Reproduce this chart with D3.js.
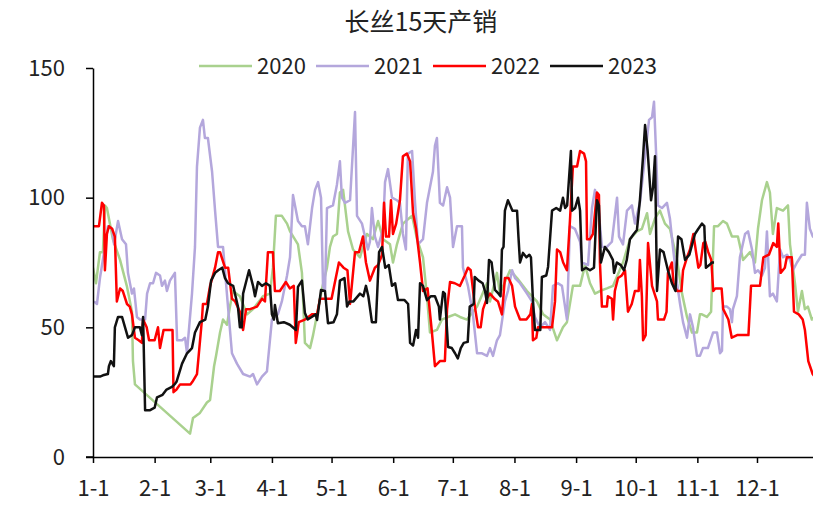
<!DOCTYPE html>
<html>
<head>
<meta charset="utf-8">
<script src="https://cdn.jsdelivr.net/npm/d3@7/dist/d3.min.js"></script>
<style>
  html, body { margin: 0; padding: 0; background: #fff; }
  svg { display: block; }
  text { font-family: "Noto Sans CJK SC", "Noto Sans", sans-serif; fill: #222; }
</style>
</head>
<body>
<svg id="chart" width="813" height="510"></svg>
<script>
// ---- data (day of year, value) ----
const title = "长丝15天产销";
const seriesNames = ["2020", "2021", "2022", "2023"];
const monthStarts = [0, 31, 59, 90, 120, 151, 181, 212, 243, 273, 304, 334];
const monthLabels = ["1-1","2-1","3-1","4-1","5-1","6-1","7-1","8-1","9-1","10-1","11-1","12-1"];
const yTicks = [0, 50, 100, 150];

const s2020 = [[0,73],[1.5,67],[3.5,79],[5,79],[6,97],[7,96],[10,84],[13.6,76],[17,66],[19.6,56],[20.1,37],[21.1,28],[48.8,9],[50.3,15],[53.8,17],[57.3,21],[58.9,22],[60.9,35],[61.9,39],[63.9,48],[65.4,53],[67.4,51],[68.9,58],[70.4,64],[73.9,62],[77.5,55],[80.5,57],[85.5,62],[89,63],[90.5,73],[92,93],[95,93],[97.6,90],[99.1,87],[103.1,82],[105.1,71],[106.6,44],[109.2,42],[110.7,47],[112.7,55],[115.2,65],[117.7,73],[119.2,81],[120.7,85],[122.7,86],[124.2,102],[125.8,103],[128.3,87],[130.8,80],[134.3,77],[137.8,86],[140.8,84],[143.4,91],[145.9,84],[149.4,82],[150.9,75],[152.9,82],[155.9,90],[160.5,93],[163,84],[166,77],[168,62],[169.5,48],[173,49],[175.5,53],[178.6,54],[182.1,55],[184.6,54],[188.1,53],[193.2,58],[198.2,67],[199.7,60],[203.2,71],[204.7,63],[209.8,72],[213.3,69],[218.3,64],[223.3,60],[226.4,55],[229.9,53],[233.4,45],[236.4,50],[238.4,52],[241.4,66],[245,66],[247.5,74],[250,67],[252.5,63],[255,64],[258.5,65],[261.6,66],[266.6,75],[270.1,84],[273.6,87],[276.1,88],[278.7,94],[280.2,86],[282.7,92],[285.2,95],[287.7,90],[290.2,88],[293.8,76],[296.3,63],[298.8,54],[301.3,48],[303.8,48],[305.3,55],[306.3,55],[308.8,54],[310.9,56],[312.4,89],[314.4,89],[316.9,91],[318.9,90],[321.4,85],[324.4,85],[327,76],[330.5,79],[333,75],[334.5,88],[336.5,99],[339,106],[340.5,102],[342,86],[344,96],[347.1,95],[349.6,97],[350.6,82],[353.1,67],[354.6,56],[356.6,64],[358.1,57],[359.6,58],[361.6,53],[363,54]];

const s2021 = [[0.5,60],[2,59],[3.5,69],[6,81],[7.5,89],[9.6,88],[10.6,82],[12.6,91],[14.6,84],[16.6,82],[17.6,71],[19.6,63],[20.6,65],[22.1,54],[23.6,53],[26.2,53],[27.2,63],[28.7,67],[30.2,67],[31.7,71],[33.7,70],[34.7,66],[36.2,68],[37.2,64],[38.7,68],[41.2,71],[42.3,45],[44.8,45],[46.3,46],[47.3,40],[47.8,45],[49.8,63],[51.3,81],[52.3,112],[53.8,127],[55.3,130],[56.3,123],[57.8,123],[59.9,110],[61.4,95],[62.9,81],[65.4,81],[67.9,58],[69.9,40],[72.4,36],[75.5,32],[79,31],[80.5,32],[82.5,28],[85,31],[87.5,33],[90,53],[93,55],[95,60],[97.6,70],[99.1,77],[100.6,101],[103.1,91],[105.1,89],[106.6,89],[108.1,82],[110.2,96],[111.7,103],[113.2,106],[114.7,100],[115.7,66],[116.7,64],[117.7,96],[120.7,97],[122.7,105],[124.2,114],[125.2,100],[126.8,98],[129.3,99],[131.8,133],[132.8,93],[135.3,90],[136.8,85],[138.3,80],[139.3,83],[140.3,96],[141.8,85],[143.4,81],[145.9,88],[146.9,106],[148.4,111],[150.4,100],[152.9,99],[154.4,98],[155.9,86],[157.4,80],[158.4,117],[160.5,118],[162,98],[163.5,82],[166,84],[168,98],[169.5,104],[171,110],[172,120],[173,123],[174.5,98],[176.1,97],[178.1,104],[179.6,100],[181.1,81],[183.1,89],[185.6,89],[186.1,73],[188.6,66],[191.1,55],[193.2,40],[195.7,40],[198.2,39],[199.7,42],[201.2,39],[203.2,45],[204.7,47],[207.2,60],[208.7,64],[210.8,72],[212.3,69],[214.8,67],[218.3,63],[220.8,60],[222.3,54],[224.8,50],[227.4,52],[229.9,49],[231.4,66],[233.9,67],[235.9,66],[238.4,53],[239.9,89],[242.4,88],[245,83],[246,75],[249,74],[251,96],[252.5,103],[254,98],[256,81],[258.5,81],[261,83],[263.6,100],[264.6,85],[266.6,82],[268.6,95],[271.1,97],[272.6,90],[275.1,98],[277.7,116],[279.7,130],[281.2,131],[282.2,137],[283.2,118],[284.2,97],[286.2,96],[288.7,98],[290.2,92],[291.7,81],[293.8,67],[295.3,59],[296.8,52],[298.8,46],[300.3,55],[301.8,50],[303.8,39],[305.3,39],[306.8,42],[309.3,42],[311.9,48],[313.9,48],[315.4,40],[316.4,41],[316.9,58],[318.9,58],[320.4,57],[321.4,52],[321.9,57],[323.9,62],[325.4,77],[328,86],[329.5,87],[331.5,80],[333,71],[334.5,72],[336.5,70],[338,73],[339,87],[340.5,62],[342,63],[344,60],[345.6,80],[347.1,77],[349.1,78],[350.6,76],[352.1,72],[354.1,75],[356.6,78],[358.1,78],[359.1,98],[360.6,88],[362.1,85],[364,84]];

const s2022 = [[0,89],[3,89],[4.5,98],[5.5,97],[6,72],[7,86],[8,89],[9.6,88],[11,85],[12,60],[13.6,65],[15,64],[17.1,59],[18.5,58],[19.6,55],[21.1,46],[23,45],[24.6,44],[25.2,53],[27,50],[28.2,45],[31,45],[32.7,50],[33.7,42],[35.5,49],[37.2,49],[40,49],[40.5,25],[42,26],[43.8,28],[46.3,28],[49,28],[50,29],[52.3,32],[53.5,42],[54.8,53],[55.3,59],[57.3,59],[58.9,66],[61.4,73],[62.9,79],[63.9,79],[66.4,73],[68,73],[69.9,61],[71.5,60],[73.9,56],[75.5,49],[77,57],[79,57],[82.5,58],[85,61],[86.5,60],[88,79],[90.5,79],[91.5,64],[94,64],[97,67.5],[99,65],[101,66],[102,44],[103.5,52],[106.6,53],[110,55],[112.7,55],[114.2,61],[117,61],[120,61],[123.7,75],[126,73],[128,72],[129.3,59],[131.8,79],[133.8,79],[135.8,85],[137.3,75],[139.3,68],[141.8,73],[143.4,74],[145.4,78],[146.4,98],[147.4,85],[148.9,85],[149.9,99],[150.9,86],[152.5,90],[154.4,99],[155.9,116],[157.9,117],[159.5,114],[161,94],[162.5,88],[164.5,75],[166,64],[168.3,65],[170.5,48],[172,35],[174.5,37],[177,37],[178.1,57],[179.6,67.5],[182,67],[184.6,66],[187,70],[188.6,73],[190,72],[192.1,58],[193.7,50],[195,50],[196.2,57],[198,61],[199.7,63],[202,61],[203.7,60],[205.7,55],[207.2,69],[209,69],[210.8,66],[212.3,58],[214.8,53],[218,53],[220,55],[220.8,59],[221.3,45],[223,46],[223.8,50],[226.4,50],[229,50],[230.9,50],[232.4,60],[233.4,80],[235,79],[236.5,75],[238.4,72],[239.9,91],[241.4,112],[243.5,112],[245,118],[247,117],[248,114],[248.5,84],[250,84],[251.5,86],[253.5,102],[254.5,101],[255,75],[256,58],[258.5,58],[259,62],[261,61],[261.6,53],[262.5,64],[264.1,69],[266,70],[267.6,72],[269.1,56],[271,59],[272.6,64],[274.5,64],[275.1,76],[276.1,62],[276.7,45],[278,47],[279.2,82.5],[281.2,66],[283.7,60],[284.2,53],[287.2,53],[288.5,56],[289.2,71],[291.2,75],[292,67],[293.8,64],[296,64],[296.8,72],[298.8,77],[300.3,80],[302,86],[304.5,73],[305.5,74],[307,82.5],[308,83],[309.5,79],[311,76],[312,64],[313,65],[316.2,65],[317,57],[319.6,53],[321.3,46],[324,47],[327,47],[329.7,47],[331,66],[335.5,66],[337.2,77],[340,78],[342.2,82.5],[344,81],[344.7,90],[345.9,71],[348,73],[349,77],[351.5,77],[352.6,56],[355,55],[357,53],[358.1,49],[359.8,37],[362,32],[364,30]];

const s2023 = [[0,31],[3.5,31],[5,31.5],[7.5,32],[8,35],[9,37],[10.5,35],[11,50],[12.6,54],[14.6,54],[17.6,46],[19.6,47],[21.1,50],[23.6,50],[24.6,47],[25.2,54],[26.2,18],[28.5,18],[31,19],[32.2,23],[35,24],[37,26],[39.7,27],[41,28],[42,29],[44.8,36],[47.3,40],[49.8,42],[51.3,48],[53.8,52],[56.5,53],[57.8,58],[59.4,68],[61.4,71],[63,72],[65,73],[66.4,69],[67.9,67],[70.5,66],[72.9,58],[73.9,50],[74.8,50],[75.5,63],[77.5,69],[78.5,72],[80.5,66],[81.5,62],[83,67.5],[85,66],[87,67],[89,66],[90,55],[91,53],[91.5,58.6],[92.5,54],[93,51.6],[96,52],[99,51],[102.1,49],[103.1,65.6],[105.1,68],[106.6,55.5],[108,53],[110,54],[112,55],[112.7,52.8],[114.7,64.4],[116.7,64],[118.2,51.6],[121,52],[122.7,55],[124.2,68],[126.5,69],[127.8,58],[129,60],[131,60],[134.3,63],[136,62],[137.3,66],[138.5,62],[140.3,52],[142.3,52],[143.9,79],[145.4,81],[147,73],[148.8,74],[150.4,66],[152,67],[153.4,60.5],[156.7,60.5],[158.5,59],[159.5,44],[161,43],[162.5,49],[163.5,46],[164.5,67],[166,66],[168,60.5],[170,62],[172,62],[174,58],[174.5,53],[176.1,63.6],[177,63],[178.6,42.4],[180.5,42],[182.1,40],[183.5,38],[185,42],[186.5,44],[188.5,44.4],[189.5,58],[191.5,59],[192,69.4],[194,68],[196,67],[197.2,64],[198.2,59.4],[199.2,76],[200.5,75],[202.2,64.4],[204,63],[205,62],[205.7,80],[206.5,81],[207.2,95],[208.7,99],[211,95],[213.3,95],[214,85],[214.8,75],[216.3,78.7],[218,77],[219.5,78],[220.3,77],[221.3,60.5],[222.3,49],[225,49],[225.8,69.4],[228,70],[228.9,73.3],[230.9,95],[233,96],[235,95],[236.4,100],[237.5,96],[238.5,97],[240.4,118],[241,95],[242.5,96],[244,100],[245,95],[246,72],[248,73],[250,72],[252,73],[253.5,99],[254.5,97],[255.5,75],[257.5,81],[259.5,79],[261.5,76],[262.1,71],[263.5,75],[265.5,74],[267.1,72],[268.5,76],[270.1,84],[272,86],[273.6,87.5],[275.1,99],[276.7,116],[277.7,128],[279,118],[280.7,99],[281.7,104],[282.7,116],[283.7,64],[285.2,80],[287,79],[289.2,72],[291.2,67],[293,64],[294.3,85],[296,84],[297.8,76],[300,78],[302.8,86],[304.5,88],[306.3,90],[307.5,89],[308.3,73],[310,74],[311.4,75],[312.4,75]];

const seriesData = [s2020, s2021, s2022, s2023];
const seriesColors = ["#a9d18e", "#b4a7dc", "#ff0000", "#111111"];

// ---- layout ----
const svg = d3.select("#chart");
const W = 813, H = 510;
const m = { left: 93, top: 68, bottom: 457 };
const pxPerDay = 1.988;
const fontStack = "'Noto Sans CJK SC', 'Noto Sans', sans-serif";

const x = d3.scaleLinear().domain([0, 365]).range([m.left, m.left + 365 * pxPerDay]);
const y = d3.scaleLinear().domain([0, 150]).range([m.bottom, m.top]);

// title
svg.append("text")
  .attr("x", 421).attr("y", 31)
  .attr("text-anchor", "middle")
  .style("font-size", "25px")
  .text(title);

// legend
const legendX = [199, 316, 433, 550];
const leg = svg.append("g");
seriesNames.forEach((n, i) => {
  const g = leg.append("g").attr("transform", `translate(${legendX[i]},66)`);
  g.append("line").attr("x1", 0).attr("x2", 53).attr("y1", 0).attr("y2", 0)
    .attr("stroke", seriesColors[i]).attr("stroke-width", 2.5);
  g.append("text").attr("x", 58).attr("y", 0).attr("dy", "0.36em")
    .style("font-size", "22px").text(n);
});

// lines
const line = d3.line().x(d => x(d[0])).y(d => y(d[1]));
svg.append("defs").append("clipPath").attr("id", "clip")
  .append("rect").attr("x", m.left).attr("y", 0).attr("width", W - m.left).attr("height", H);
const lg = svg.append("g").attr("clip-path", "url(#clip)");
seriesData.forEach((s, i) => {
  lg.append("path").datum(s)
    .attr("fill", "none")
    .attr("stroke", seriesColors[i])
    .attr("stroke-width", 2.5)
    .attr("stroke-linejoin", "round")
    .attr("d", line);
});

// y axis
const yAxis = d3.axisLeft(y).tickValues(yTicks).tickSize(7).tickPadding(21).tickSizeOuter(0);
const yg = svg.append("g").attr("transform", `translate(${m.left},0)`).call(yAxis);
yg.select(".domain").attr("stroke", "#000").attr("stroke-width", 1.5);
yg.selectAll(".tick line").attr("stroke", "#000").attr("stroke-width", 1.5);
yg.selectAll("text").style("font-size", "22px").style("font-family", fontStack).attr("fill", "#222");

// x axis
const xAxis = d3.axisBottom(x).tickValues(monthStarts).tickFormat((d, i) => monthLabels[i])
  .tickSize(6).tickPadding(17).tickSizeOuter(0);
const xg = svg.append("g").attr("transform", `translate(0,${m.bottom})`).call(xAxis);
xg.select(".domain").attr("stroke", "#000").attr("stroke-width", 1.5);
xg.selectAll(".tick line").attr("stroke", "#000").attr("stroke-width", 1.5);
xg.selectAll("text").style("font-size", "22px").style("font-family", fontStack).attr("fill", "#222");
xg.append("line").attr("x1", m.left - 7).attr("x2", m.left).attr("y1", 0).attr("y2", 0)
  .attr("stroke", "#000").attr("stroke-width", 1.5);
</script>
</body>
</html>
